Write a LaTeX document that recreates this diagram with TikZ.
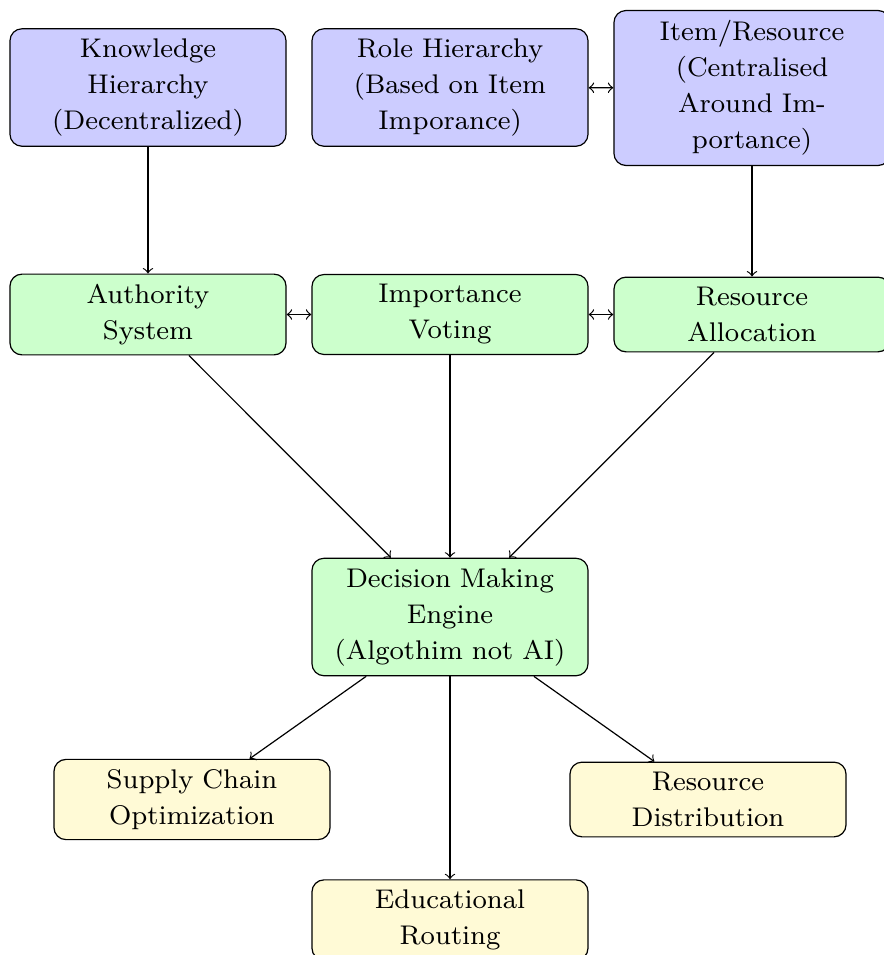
\documentclass[tikz,border=0pt]{standalone}
\usepackage{fontspec}
\usetikzlibrary{arrows}

% wide optical size of Latin Modern for the box labels
\newfontfamily\boxfont{lmroman8-regular}[Extension=.otf]

\definecolor{outfill}{RGB}{255,250,214}

\tikzset{
  box/.style={draw=black, rounded corners, text width=3cm, align=center,
              inner xsep=3.33pt, inner ysep=3.33pt,
              font={\boxfont\fontsize{9}{12}\selectfont}},
  source/.style={box, fill=blue!20},
  core/.style={box, fill=green!20},
  outcome/.style={box, fill=outfill},
  link/.style={->},
  mutual/.style={<->}
}

\begin{document}
\begin{tikzpicture}[x=0.33333pt, y=-0.33333pt]
  % page frame (units are 1/3 pt, y grows downwards)
  \useasboundingbox (0,0) rectangle (883,955);

  % top row: hierarchies
  \node[source] (kh) at (148,87.5) {Knowledge\\Hierarchy\\(Decentralized)};
  \node[source] (rh) at (450,87.5) {Role Hierarchy\\(Based on Item\\Imporance)};
  \node[source] (ir) at (752,88) {Item/Resource\\(Centralised\\Around Im-\\portance)};

  % middle row: mechanisms
  \node[core] (as) at (148,314.5) {Authority\\System};
  \node[core] (iv) at (450,314.5) {Importance\\Voting};
  \node[core] (ra) at (752,314.5) {Resource\\Allocation};

  % engine
  \node[core] (dm) at (450,617) {Decision Making\\Engine\\(Algothim not AI)};

  % outputs
  \node[outcome] (sc) at (192,799.5) {Supply Chain\\Optimization};
  \node[outcome] (rd) at (708,799.5) {Resource\\Distribution};
  \node[outcome] (er) at (450,920) {Educational\\Routing};

  % connectors
  \draw[link] (kh) -- (as);
  \draw[link] (ir) -- (ra);
  \draw[mutual] (rh) -- (ir);
  \draw[mutual] (as) -- (iv);
  \draw[mutual] (iv) -- (ra);

  \draw[link] (as) -- (dm);
  \draw[link] (iv) -- (dm);
  \draw[link] (ra) -- (dm);

  \draw[link] (dm) -- (sc);
  \draw[link] (dm) -- (er);
  \draw[link] (dm) -- (rd);
\end{tikzpicture}
\end{document}
